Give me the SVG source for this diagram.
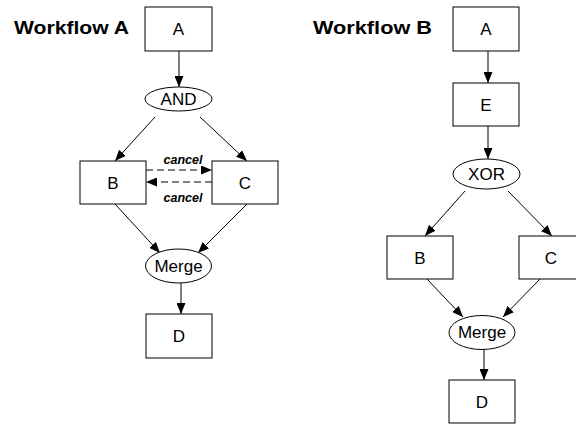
<svg xmlns="http://www.w3.org/2000/svg" width="576" height="424" viewBox="0 0 576 424">
<style>
.n{fill:#fff;stroke:#000;stroke-width:1}
.t{font-family:"Liberation Sans",Arial,sans-serif;font-size:17px;fill:#000;text-anchor:middle}
.h{font-family:"Liberation Sans",Arial,sans-serif;font-size:18.5px;font-weight:bold;fill:#000}
.c{font-family:"Liberation Sans",Arial,sans-serif;font-size:12.5px;font-weight:bold;font-style:italic;fill:#000;text-anchor:middle}
.e{stroke:#000;stroke-width:1;fill:none;marker-end:url(#ah)}
.d{stroke-dasharray:7,4}
</style>
<defs>
<marker id="ah" markerUnits="userSpaceOnUse" markerWidth="11" markerHeight="9" refX="11" refY="4.5" orient="auto">
<path d="M0,0 L11,4.5 L0,9 z" fill="#000"/>
</marker>
</defs>
<rect width="576" height="424" fill="#fff"/>
<text class="h" x="14" y="34" textLength="115" lengthAdjust="spacingAndGlyphs">Workflow A</text>
<text class="h" x="313" y="34" textLength="119" lengthAdjust="spacingAndGlyphs">Workflow B</text>
<g id="connectors">
<line class="e" x1="179" y1="51" x2="179" y2="87"/>
<line class="e" x1="155" y1="117" x2="115" y2="161"/>
<line class="e" x1="200" y1="117" x2="247" y2="161"/>
<line class="e d" x1="146" y1="170" x2="212" y2="170"/>
<line class="e d" x1="212" y1="182" x2="146" y2="182"/>
<line class="e" x1="115" y1="204" x2="160" y2="253"/>
<line class="e" x1="247" y1="204" x2="198" y2="253"/>
<line class="e" x1="181" y1="283" x2="181" y2="314"/>
<text class="c" x="183" y="164">cancel</text>
<text class="c" x="183" y="202">cancel</text>
<line class="e" x1="488" y1="51" x2="488" y2="83"/>
<line class="e" x1="488" y1="126" x2="488" y2="159"/>
<line class="e" x1="465" y1="191" x2="425" y2="236"/>
<line class="e" x1="508" y1="191" x2="552" y2="236"/>
<line class="e" x1="427" y1="279" x2="463" y2="317"/>
<line class="e" x1="540" y1="279" x2="503" y2="317"/>
<line class="e" x1="484" y1="350" x2="484" y2="380"/>
</g>
<g id="a_A"><rect class="n" x="145" y="7" width="67" height="44"/><text class="t" x="178.5" y="35">A</text></g>
<g id="a_AND"><ellipse class="n" cx="178.5" cy="99" rx="33.5" ry="12"/><text class="t" x="178.5" y="105">AND</text></g>
<g id="a_B"><rect class="n" x="80" y="161" width="66" height="43"/><text class="t" x="113" y="189">B</text></g>
<g id="a_C"><rect class="n" x="212" y="161" width="66" height="43"/><text class="t" x="245" y="189">C</text></g>
<g id="a_Merge"><ellipse class="n" cx="178.5" cy="266" rx="33" ry="17"/><text class="t" x="178.5" y="272">Merge</text></g>
<g id="a_D"><rect class="n" x="146" y="314" width="66" height="44"/><text class="t" x="179" y="342">D</text></g>
<g id="b_A"><rect class="n" x="453" y="7" width="66" height="44"/><text class="t" x="486" y="35">A</text></g>
<g id="b_E"><rect class="n" x="453" y="83" width="66" height="43"/><text class="t" x="486" y="111">E</text></g>
<g id="b_XOR"><ellipse class="n" cx="486.5" cy="174" rx="33.5" ry="15"/><text class="t" x="486.5" y="180">XOR</text></g>
<g id="b_B"><rect class="n" x="387" y="236" width="66" height="43"/><text class="t" x="420" y="264">B</text></g>
<g id="b_C"><rect class="n" x="519" y="236" width="66" height="43"/><text class="t" x="551" y="264">C</text></g>
<g id="b_Merge"><ellipse class="n" cx="482" cy="332.5" rx="33" ry="17"/><text class="t" x="482" y="338">Merge</text></g>
<g id="b_D"><rect class="n" x="449" y="380" width="66" height="43"/><text class="t" x="482" y="408">D</text></g>
</svg>
